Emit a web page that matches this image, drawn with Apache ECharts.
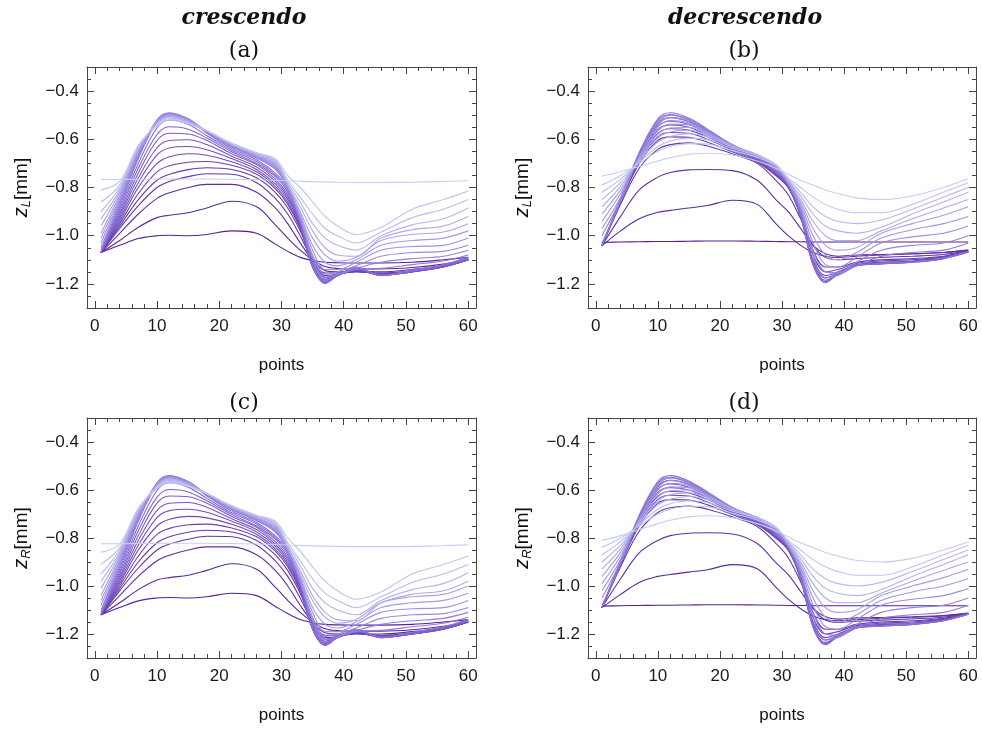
<!DOCTYPE html>
<html><head><meta charset="utf-8">
<script src="https://cdn.jsdelivr.net/npm/echarts@6/dist/echarts.min.js"></script>
<style>html,body{margin:0;padding:0;background:#fff}#c{width:982px;height:729px}</style>
</head><body><div id="c"></div>
<script>
// sample positions ("points") at which each curve was read
const X = [1,4,7,10,12,15,18,22,26,29,31,33,35,37,39,42,46,51,56,60];
const xTickLabels = [0,10,20,30,40,50,60];
const xMinorTicks = [2,4,6,8,12,14,16,18,22,24,26,28,32,34,36,38,42,44,46,48,52,54,56,58];
const yTickLabels = [-1.2,-1.0,-0.8,-0.6,-0.4];
const yMinorTicks = [-1.25,-1.15,-1.1,-1.05,-0.95,-0.9,-0.85,-0.75,-0.7,-0.65,-0.55,-0.5,-0.45,-0.35];

// (a) z_L crescendo : dark -> light
const crescL_dark = [
 [-1.07,-1.04,-1.012,-1.0,-0.998,-1.0,-0.995,-0.98,-0.99,-1.035,-1.065,-1.09,-1.103,-1.11,-1.112,-1.113,-1.113,-1.11,-1.10,-1.09],
 [-1.07,-1.02,-0.965,-0.925,-0.915,-0.905,-0.885,-0.857,-0.88,-0.955,-1.01,-1.06,-1.10,-1.128,-1.136,-1.138,-1.138,-1.132,-1.118,-1.10],
 [-1.07,-0.99,-0.91,-0.845,-0.822,-0.80,-0.787,-0.787,-0.82,-0.885,-0.95,-1.03,-1.10,-1.145,-1.15,-1.148,-1.15,-1.14,-1.125,-1.10],
 [-1.07,-0.97,-0.875,-0.80,-0.775,-0.755,-0.743,-0.745,-0.78,-0.845,-0.91,-1.0,-1.10,-1.155,-1.155,-1.15,-1.155,-1.145,-1.125,-1.10]
];
const crescL_mid = [
 [-1.07,-0.96,-0.85,-0.77,-0.745,-0.726,-0.718,-0.725,-0.76,-0.82,-0.885,-0.98,-1.10,-1.165,-1.16,-1.148,-1.158,-1.148,-1.128,-1.10],
 [-1.07,-0.95,-0.825,-0.735,-0.71,-0.695,-0.692,-0.708,-0.745,-0.805,-0.87,-0.97,-1.11,-1.172,-1.162,-1.146,-1.16,-1.148,-1.128,-1.10],
 [-1.07,-0.94,-0.80,-0.70,-0.672,-0.66,-0.666,-0.693,-0.735,-0.795,-0.86,-0.965,-1.12,-1.18,-1.163,-1.145,-1.162,-1.15,-1.13,-1.10],
 [-1.07,-0.93,-0.78,-0.665,-0.636,-0.63,-0.643,-0.68,-0.725,-0.785,-0.85,-0.96,-1.125,-1.185,-1.165,-1.143,-1.163,-1.15,-1.13,-1.10],
 [-1.07,-0.92,-0.76,-0.635,-0.605,-0.602,-0.622,-0.67,-0.715,-0.775,-0.84,-0.955,-1.13,-1.19,-1.165,-1.14,-1.164,-1.15,-1.13,-1.10],
 [-1.07,-0.91,-0.74,-0.605,-0.575,-0.578,-0.605,-0.66,-0.705,-0.765,-0.83,-0.95,-1.13,-1.195,-1.165,-1.138,-1.165,-1.15,-1.128,-1.098],
 [-1.07,-0.90,-0.72,-0.58,-0.548,-0.558,-0.595,-0.652,-0.70,-0.755,-0.82,-0.945,-1.13,-1.195,-1.165,-1.135,-1.165,-1.148,-1.125,-1.095],
 [-1.07,-0.89,-0.70,-0.552,-0.52,-0.538,-0.585,-0.645,-0.692,-0.748,-0.81,-0.94,-1.125,-1.197,-1.165,-1.132,-1.165,-1.145,-1.122,-1.092],
 [-1.065,-0.88,-0.68,-0.528,-0.495,-0.52,-0.575,-0.638,-0.685,-0.74,-0.80,-0.93,-1.12,-1.198,-1.165,-1.13,-1.163,-1.143,-1.12,-1.09]
];
const crescL_light = [
 [-1.06,-0.87,-0.67,-0.52,-0.49,-0.515,-0.57,-0.632,-0.678,-0.725,-0.80,-0.935,-1.10,-1.185,-1.165,-1.14,-1.135,-1.12,-1.105,-1.08],
 [-1.05,-0.86,-0.665,-0.52,-0.492,-0.515,-0.57,-0.63,-0.675,-0.72,-0.80,-0.93,-1.09,-1.175,-1.16,-1.135,-1.11,-1.095,-1.085,-1.06],
 [-1.03,-0.85,-0.66,-0.522,-0.495,-0.517,-0.568,-0.628,-0.672,-0.715,-0.80,-0.93,-1.08,-1.16,-1.15,-1.125,-1.085,-1.07,-1.065,-1.04],
 [-1.01,-0.84,-0.655,-0.525,-0.498,-0.52,-0.567,-0.626,-0.67,-0.71,-0.80,-0.92,-1.06,-1.14,-1.14,-1.11,-1.06,-1.045,-1.04,-1.01],
 [-0.99,-0.83,-0.65,-0.528,-0.50,-0.522,-0.566,-0.624,-0.668,-0.705,-0.79,-0.91,-1.04,-1.11,-1.125,-1.10,-1.04,-1.02,-1.01,-0.98],
 [-0.96,-0.82,-0.645,-0.53,-0.503,-0.525,-0.565,-0.622,-0.665,-0.70,-0.79,-0.90,-1.01,-1.08,-1.105,-1.09,-1.02,-0.995,-0.985,-0.95],
 [-0.93,-0.81,-0.64,-0.532,-0.506,-0.527,-0.565,-0.62,-0.662,-0.695,-0.79,-0.88,-0.98,-1.05,-1.08,-1.085,-1.01,-0.975,-0.96,-0.92],
 [-0.90,-0.80,-0.635,-0.535,-0.51,-0.53,-0.565,-0.618,-0.66,-0.69,-0.78,-0.86,-0.95,-1.01,-1.04,-1.06,-1.0,-0.955,-0.93,-0.885],
 [-0.86,-0.79,-0.63,-0.54,-0.515,-0.532,-0.565,-0.617,-0.658,-0.686,-0.77,-0.84,-0.91,-0.97,-1.0,-1.03,-0.985,-0.925,-0.89,-0.85],
 [-0.81,-0.775,-0.625,-0.545,-0.52,-0.535,-0.566,-0.615,-0.655,-0.68,-0.75,-0.80,-0.86,-0.92,-0.96,-0.995,-0.965,-0.89,-0.85,-0.815]
];
const crescL_flat = [-0.767,-0.767,-0.766,-0.765,-0.765,-0.765,-0.765,-0.766,-0.768,-0.77,-0.772,-0.774,-0.776,-0.777,-0.778,-0.779,-0.779,-0.778,-0.775,-0.772];

// (b) z_L decrescendo : dark -> light
const decrescL_dark = [
 [-1.028,-1.026,-1.025,-1.024,-1.024,-1.023,-1.022,-1.022,-1.023,-1.024,-1.025,-1.025,-1.026,-1.026,-1.026,-1.026,-1.026,-1.026,-1.026,-1.026],
 [-1.042,-0.98,-0.93,-0.903,-0.895,-0.885,-0.875,-0.853,-0.87,-0.95,-1.0,-1.04,-1.07,-1.085,-1.09,-1.085,-1.08,-1.075,-1.07,-1.06],
 [-1.042,-0.92,-0.81,-0.757,-0.738,-0.727,-0.725,-0.73,-0.77,-0.85,-0.90,-0.97,-1.04,-1.075,-1.085,-1.08,-1.078,-1.075,-1.07,-1.06],
 [-1.042,-0.87,-0.72,-0.642,-0.622,-0.615,-0.628,-0.66,-0.70,-0.77,-0.83,-0.93,-1.04,-1.09,-1.10,-1.095,-1.09,-1.085,-1.078,-1.062]
];
const decrescL_mid = [
 [-1.042,-0.86,-0.70,-0.605,-0.59,-0.592,-0.612,-0.652,-0.695,-0.75,-0.80,-0.91,-1.06,-1.13,-1.13,-1.11,-1.10,-1.095,-1.085,-1.065],
 [-1.042,-0.86,-0.69,-0.59,-0.572,-0.575,-0.60,-0.645,-0.69,-0.748,-0.80,-0.915,-1.08,-1.15,-1.14,-1.115,-1.105,-1.10,-1.088,-1.065],
 [-1.042,-0.855,-0.68,-0.575,-0.556,-0.562,-0.59,-0.64,-0.686,-0.745,-0.795,-0.92,-1.10,-1.165,-1.15,-1.12,-1.11,-1.105,-1.09,-1.066],
 [-1.042,-0.855,-0.675,-0.56,-0.54,-0.55,-0.582,-0.636,-0.682,-0.742,-0.795,-0.92,-1.11,-1.175,-1.155,-1.122,-1.113,-1.108,-1.092,-1.067],
 [-1.042,-0.85,-0.67,-0.547,-0.525,-0.538,-0.575,-0.632,-0.678,-0.738,-0.79,-0.92,-1.115,-1.185,-1.16,-1.125,-1.115,-1.11,-1.094,-1.068],
 [-1.042,-0.85,-0.665,-0.535,-0.51,-0.527,-0.568,-0.628,-0.675,-0.735,-0.79,-0.915,-1.12,-1.19,-1.16,-1.125,-1.117,-1.11,-1.095,-1.068],
 [-1.042,-0.85,-0.66,-0.522,-0.497,-0.518,-0.562,-0.625,-0.672,-0.73,-0.785,-0.91,-1.12,-1.193,-1.16,-1.124,-1.117,-1.11,-1.095,-1.068],
 [-1.042,-0.845,-0.655,-0.515,-0.49,-0.512,-0.558,-0.622,-0.67,-0.728,-0.785,-0.905,-1.12,-1.195,-1.16,-1.122,-1.116,-1.108,-1.094,-1.066]
];
const decrescL_light = [
 [-1.03,-0.86,-0.67,-0.53,-0.50,-0.52,-0.565,-0.625,-0.67,-0.72,-0.785,-0.895,-1.08,-1.175,-1.165,-1.125,-1.085,-1.07,-1.06,-1.03],
 [-1.0,-0.85,-0.67,-0.54,-0.51,-0.525,-0.567,-0.625,-0.668,-0.715,-0.785,-0.89,-1.06,-1.15,-1.155,-1.11,-1.06,-1.04,-1.03,-1.0],
 [-0.97,-0.84,-0.67,-0.55,-0.522,-0.532,-0.57,-0.625,-0.667,-0.712,-0.78,-0.88,-1.03,-1.12,-1.13,-1.09,-1.03,-1.005,-0.99,-0.96],
 [-0.94,-0.825,-0.675,-0.565,-0.537,-0.54,-0.573,-0.625,-0.665,-0.71,-0.78,-0.87,-1.0,-1.08,-1.10,-1.07,-1.01,-0.975,-0.95,-0.92],
 [-0.91,-0.81,-0.68,-0.58,-0.553,-0.55,-0.577,-0.626,-0.664,-0.708,-0.775,-0.86,-0.97,-1.04,-1.06,-1.05,-0.99,-0.95,-0.915,-0.88],
 [-0.88,-0.795,-0.685,-0.595,-0.57,-0.562,-0.582,-0.628,-0.664,-0.706,-0.77,-0.85,-0.94,-1.0,-1.02,-1.02,-0.98,-0.93,-0.885,-0.85],
 [-0.85,-0.78,-0.69,-0.612,-0.588,-0.577,-0.59,-0.632,-0.665,-0.705,-0.77,-0.835,-0.91,-0.96,-0.98,-0.99,-0.965,-0.91,-0.86,-0.82],
 [-0.82,-0.765,-0.695,-0.63,-0.607,-0.595,-0.602,-0.638,-0.668,-0.705,-0.765,-0.82,-0.88,-0.92,-0.94,-0.95,-0.935,-0.89,-0.84,-0.80],
 [-0.79,-0.75,-0.70,-0.65,-0.63,-0.618,-0.62,-0.647,-0.675,-0.708,-0.76,-0.80,-0.84,-0.87,-0.89,-0.905,-0.905,-0.87,-0.82,-0.78],
 [-0.753,-0.735,-0.713,-0.69,-0.676,-0.662,-0.658,-0.665,-0.69,-0.72,-0.745,-0.77,-0.79,-0.81,-0.825,-0.843,-0.85,-0.835,-0.80,-0.764]
];

// (c) z_R crescendo : dark -> light
const crescR_dark = [
 [-1.12,-1.09,-1.062,-1.05,-1.048,-1.05,-1.045,-1.03,-1.04,-1.085,-1.115,-1.14,-1.153,-1.16,-1.162,-1.163,-1.163,-1.16,-1.15,-1.14],
 [-1.12,-1.07,-1.015,-0.975,-0.965,-0.955,-0.935,-0.907,-0.93,-1.005,-1.06,-1.11,-1.15,-1.178,-1.186,-1.188,-1.188,-1.182,-1.168,-1.15],
 [-1.12,-1.04,-0.96,-0.895,-0.872,-0.85,-0.837,-0.837,-0.87,-0.935,-1.0,-1.08,-1.15,-1.195,-1.2,-1.198,-1.2,-1.19,-1.175,-1.15],
 [-1.12,-1.02,-0.925,-0.85,-0.825,-0.805,-0.793,-0.795,-0.83,-0.895,-0.96,-1.05,-1.15,-1.205,-1.205,-1.2,-1.205,-1.195,-1.175,-1.15]
];
const crescR_mid = [
 [-1.12,-1.01,-0.9,-0.82,-0.795,-0.776,-0.768,-0.775,-0.81,-0.87,-0.935,-1.03,-1.15,-1.215,-1.21,-1.198,-1.208,-1.198,-1.178,-1.15],
 [-1.12,-1.0,-0.875,-0.785,-0.76,-0.745,-0.742,-0.758,-0.795,-0.855,-0.92,-1.02,-1.16,-1.222,-1.212,-1.196,-1.21,-1.198,-1.178,-1.15],
 [-1.12,-0.99,-0.85,-0.75,-0.722,-0.71,-0.716,-0.743,-0.785,-0.845,-0.91,-1.015,-1.17,-1.23,-1.213,-1.195,-1.212,-1.2,-1.18,-1.15],
 [-1.12,-0.98,-0.83,-0.715,-0.686,-0.68,-0.693,-0.73,-0.775,-0.835,-0.9,-1.01,-1.175,-1.235,-1.215,-1.193,-1.213,-1.2,-1.18,-1.15],
 [-1.12,-0.97,-0.81,-0.685,-0.655,-0.652,-0.672,-0.72,-0.765,-0.825,-0.89,-1.005,-1.18,-1.24,-1.215,-1.19,-1.214,-1.2,-1.18,-1.15],
 [-1.12,-0.96,-0.79,-0.655,-0.625,-0.628,-0.655,-0.71,-0.755,-0.815,-0.88,-1.0,-1.18,-1.245,-1.215,-1.188,-1.215,-1.2,-1.178,-1.148],
 [-1.12,-0.95,-0.77,-0.63,-0.598,-0.608,-0.645,-0.702,-0.75,-0.805,-0.87,-0.995,-1.18,-1.245,-1.215,-1.185,-1.215,-1.198,-1.175,-1.145],
 [-1.12,-0.94,-0.75,-0.602,-0.57,-0.588,-0.635,-0.695,-0.742,-0.798,-0.86,-0.99,-1.175,-1.247,-1.215,-1.182,-1.215,-1.195,-1.172,-1.142],
 [-1.115,-0.93,-0.73,-0.578,-0.545,-0.57,-0.625,-0.688,-0.735,-0.79,-0.85,-0.98,-1.17,-1.248,-1.215,-1.18,-1.213,-1.193,-1.17,-1.14]
];
const crescR_light = [
 [-1.11,-0.92,-0.72,-0.57,-0.54,-0.565,-0.62,-0.682,-0.728,-0.775,-0.85,-0.985,-1.15,-1.235,-1.215,-1.19,-1.185,-1.17,-1.155,-1.13],
 [-1.1,-0.91,-0.715,-0.57,-0.542,-0.565,-0.62,-0.68,-0.725,-0.77,-0.85,-0.98,-1.14,-1.225,-1.21,-1.185,-1.16,-1.145,-1.135,-1.11],
 [-1.08,-0.9,-0.71,-0.572,-0.545,-0.567,-0.618,-0.678,-0.722,-0.765,-0.85,-0.98,-1.13,-1.21,-1.2,-1.175,-1.135,-1.12,-1.115,-1.09],
 [-1.06,-0.89,-0.705,-0.575,-0.548,-0.57,-0.617,-0.676,-0.72,-0.76,-0.85,-0.97,-1.11,-1.19,-1.19,-1.16,-1.11,-1.095,-1.09,-1.06],
 [-1.04,-0.88,-0.7,-0.578,-0.55,-0.572,-0.616,-0.674,-0.718,-0.755,-0.84,-0.96,-1.09,-1.16,-1.175,-1.15,-1.09,-1.07,-1.06,-1.03],
 [-1.01,-0.87,-0.695,-0.58,-0.553,-0.575,-0.615,-0.672,-0.715,-0.75,-0.84,-0.95,-1.06,-1.13,-1.155,-1.14,-1.07,-1.045,-1.035,-1.0],
 [-0.98,-0.86,-0.69,-0.582,-0.556,-0.577,-0.615,-0.67,-0.712,-0.745,-0.84,-0.935,-1.04,-1.11,-1.14,-1.145,-1.07,-1.035,-1.02,-0.98],
 [-0.95,-0.85,-0.685,-0.585,-0.56,-0.58,-0.615,-0.668,-0.71,-0.74,-0.83,-0.915,-1.01,-1.07,-1.1,-1.12,-1.06,-1.015,-0.99,-0.945],
 [-0.91,-0.84,-0.68,-0.59,-0.565,-0.582,-0.615,-0.667,-0.708,-0.736,-0.82,-0.895,-0.97,-1.03,-1.06,-1.09,-1.045,-0.985,-0.95,-0.91],
 [-0.86,-0.825,-0.675,-0.595,-0.57,-0.585,-0.616,-0.665,-0.705,-0.73,-0.8,-0.855,-0.92,-0.98,-1.02,-1.055,-1.025,-0.95,-0.91,-0.875]
];
const crescR_flat = [-0.824,-0.824,-0.823,-0.822,-0.822,-0.822,-0.822,-0.823,-0.825,-0.827,-0.829,-0.831,-0.833,-0.834,-0.835,-0.836,-0.836,-0.835,-0.832,-0.828];

// (d) z_R decrescendo : dark -> light
const decrescR_dark = [
 [-1.084,-1.082,-1.081,-1.08,-1.08,-1.079,-1.078,-1.078,-1.079,-1.08,-1.081,-1.081,-1.082,-1.082,-1.082,-1.082,-1.082,-1.082,-1.082,-1.082],
 [-1.09,-1.035,-0.985,-0.96,-0.952,-0.942,-0.932,-0.911,-0.928,-1.005,-1.055,-1.095,-1.125,-1.14,-1.145,-1.14,-1.135,-1.13,-1.125,-1.115],
 [-1.09,-0.97,-0.862,-0.81,-0.79,-0.78,-0.778,-0.783,-0.823,-0.903,-0.953,-1.023,-1.093,-1.128,-1.138,-1.133,-1.131,-1.128,-1.123,-1.113],
 [-1.09,-0.92,-0.772,-0.694,-0.674,-0.667,-0.68,-0.712,-0.752,-0.822,-0.882,-0.982,-1.092,-1.142,-1.152,-1.147,-1.142,-1.137,-1.13,-1.114]
];
const decrescR_mid = [
 [-1.09,-0.91,-0.75,-0.655,-0.64,-0.642,-0.662,-0.702,-0.745,-0.8,-0.85,-0.96,-1.11,-1.18,-1.18,-1.16,-1.15,-1.145,-1.135,-1.115],
 [-1.09,-0.91,-0.74,-0.64,-0.622,-0.625,-0.65,-0.695,-0.74,-0.798,-0.85,-0.965,-1.13,-1.2,-1.19,-1.165,-1.155,-1.15,-1.138,-1.115],
 [-1.09,-0.905,-0.73,-0.625,-0.606,-0.612,-0.64,-0.69,-0.736,-0.795,-0.845,-0.97,-1.15,-1.215,-1.2,-1.17,-1.16,-1.155,-1.14,-1.116],
 [-1.09,-0.905,-0.725,-0.61,-0.59,-0.6,-0.632,-0.686,-0.732,-0.792,-0.845,-0.97,-1.16,-1.225,-1.205,-1.172,-1.163,-1.158,-1.142,-1.117],
 [-1.09,-0.9,-0.72,-0.597,-0.575,-0.588,-0.625,-0.682,-0.728,-0.788,-0.84,-0.97,-1.165,-1.235,-1.21,-1.175,-1.165,-1.16,-1.144,-1.118],
 [-1.09,-0.9,-0.715,-0.585,-0.56,-0.577,-0.618,-0.678,-0.725,-0.785,-0.84,-0.965,-1.17,-1.24,-1.21,-1.175,-1.167,-1.16,-1.145,-1.118],
 [-1.09,-0.9,-0.71,-0.572,-0.547,-0.568,-0.612,-0.675,-0.722,-0.78,-0.835,-0.96,-1.17,-1.243,-1.21,-1.174,-1.167,-1.16,-1.145,-1.118],
 [-1.09,-0.895,-0.705,-0.565,-0.54,-0.562,-0.608,-0.672,-0.72,-0.778,-0.835,-0.955,-1.17,-1.245,-1.21,-1.172,-1.166,-1.158,-1.144,-1.116]
];
const decrescR_light = [
 [-1.08,-0.91,-0.72,-0.58,-0.55,-0.57,-0.615,-0.675,-0.72,-0.77,-0.835,-0.945,-1.13,-1.225,-1.215,-1.175,-1.135,-1.12,-1.11,-1.08],
 [-1.05,-0.9,-0.72,-0.59,-0.56,-0.575,-0.617,-0.675,-0.718,-0.765,-0.835,-0.94,-1.11,-1.2,-1.205,-1.16,-1.11,-1.09,-1.08,-1.05],
 [-1.02,-0.89,-0.72,-0.6,-0.572,-0.582,-0.62,-0.675,-0.717,-0.762,-0.83,-0.93,-1.08,-1.17,-1.18,-1.14,-1.08,-1.055,-1.04,-1.01],
 [-0.99,-0.875,-0.725,-0.615,-0.587,-0.59,-0.623,-0.675,-0.715,-0.76,-0.83,-0.92,-1.05,-1.13,-1.15,-1.12,-1.06,-1.025,-1.0,-0.97],
 [-0.96,-0.86,-0.73,-0.63,-0.603,-0.6,-0.627,-0.676,-0.714,-0.758,-0.825,-0.91,-1.02,-1.09,-1.11,-1.1,-1.04,-1.0,-0.965,-0.93],
 [-0.93,-0.845,-0.735,-0.645,-0.62,-0.612,-0.632,-0.678,-0.714,-0.756,-0.82,-0.9,-0.99,-1.05,-1.07,-1.07,-1.03,-0.98,-0.935,-0.9],
 [-0.9,-0.83,-0.74,-0.662,-0.638,-0.627,-0.64,-0.682,-0.715,-0.755,-0.82,-0.885,-0.96,-1.01,-1.03,-1.04,-1.015,-0.96,-0.91,-0.87],
 [-0.87,-0.815,-0.745,-0.68,-0.657,-0.645,-0.652,-0.688,-0.718,-0.755,-0.815,-0.87,-0.93,-0.97,-0.99,-1.0,-0.985,-0.94,-0.89,-0.85],
 [-0.84,-0.8,-0.75,-0.7,-0.68,-0.668,-0.67,-0.697,-0.725,-0.758,-0.81,-0.85,-0.89,-0.92,-0.94,-0.955,-0.955,-0.92,-0.87,-0.83],
 [-0.81,-0.79,-0.765,-0.74,-0.726,-0.712,-0.707,-0.715,-0.74,-0.77,-0.795,-0.82,-0.84,-0.86,-0.875,-0.893,-0.9,-0.885,-0.85,-0.817]
];

const FONT = 'Liberation Sans';
const AX = '#444';
const panels = [
  {left:87, top:67, width:389, height:241, sub:'L', curves:[...crescL_dark, ...crescL_mid, ...crescL_light, crescL_flat]},
  {left:588, top:67, width:388, height:241, sub:'L', curves:[...decrescL_dark, ...decrescL_mid, ...decrescL_light]},
  {left:87, top:418, width:389, height:240, sub:'R', curves:[...crescR_dark, ...crescR_mid, ...crescR_light, crescR_flat]},
  {left:588, top:418, width:388, height:240, sub:'R', curves:[...decrescR_dark, ...decrescR_mid, ...decrescR_light]}
];

function lerp(a,b,t){return Math.round(a+(b-a)*t);}
function shade(t){
  const c0=[86,34,148], c1=[134,108,216], c2=[196,206,243];
  let a,b,u; if(t<0.5){a=c0;b=c1;u=t/0.5;} else {a=c1;b=c2;u=(t-0.5)/0.5;}
  return 'rgb('+lerp(a[0],b[0],u)+','+lerp(a[1],b[1],u)+','+lerp(a[2],b[2],u)+')';
}
const fmt = v => (v < -1e-9 ? '\u2212' : '') + Math.abs(v).toFixed(1);

const grid=[], xAxis=[], yAxis=[], series=[];
panels.forEach((p,pi)=>{
  const gMain = grid.length;
  grid.push({left:p.left, top:p.top, width:p.width, height:p.height});
  const gMin = grid.length;
  grid.push({left:p.left, top:p.top, width:p.width, height:p.height});
  const xb = xAxis.length;
  const xBase = {type:'value', min:-1.25, max:61.25, splitLine:{show:false}};
  xAxis.push(Object.assign({}, xBase, {gridIndex:gMain, position:'bottom',
    axisLine:{show:true, onZero:false, lineStyle:{color:AX, width:1}},
    axisTick:{show:true, inside:true, length:7, customValues:xTickLabels, lineStyle:{color:AX}},
    axisLabel:{show:true, customValues:xTickLabels, fontSize:17, color:'#1a1a1a', fontFamily:FONT, margin:10},
    name:'points', nameLocation:'middle', nameGap:49, nameTextStyle:{fontSize:17, color:'#111', fontFamily:FONT}}));
  xAxis.push(Object.assign({}, xBase, {gridIndex:gMain, position:'top',
    axisLine:{show:true, onZero:false, lineStyle:{color:AX, width:1}},
    axisTick:{show:true, inside:true, length:7, customValues:xTickLabels, lineStyle:{color:AX}},
    axisLabel:{show:false}}));
  xAxis.push(Object.assign({}, xBase, {gridIndex:gMin, position:'bottom',
    axisLine:{show:false, onZero:false},
    axisTick:{show:true, inside:true, length:4, customValues:xMinorTicks, lineStyle:{color:AX}},
    axisLabel:{show:false}}));
  xAxis.push(Object.assign({}, xBase, {gridIndex:gMin, position:'top',
    axisLine:{show:false, onZero:false},
    axisTick:{show:true, inside:true, length:4, customValues:xMinorTicks, lineStyle:{color:AX}},
    axisLabel:{show:false}}));
  const yb = yAxis.length;
  const yBase = {type:'value', min:-1.3, max:-0.3, splitLine:{show:false}};
  yAxis.push(Object.assign({}, yBase, {gridIndex:gMain, position:'left',
    axisLine:{show:true, onZero:false, lineStyle:{color:AX, width:1}},
    axisTick:{show:true, inside:true, length:7, customValues:yTickLabels, lineStyle:{color:AX}},
    axisLabel:{show:true, customValues:yTickLabels, formatter:fmt, fontSize:17, color:'#1a1a1a', fontFamily:FONT, margin:8},
    name:'{z|z}{s|'+p.sub+'}{m|[mm]}', nameLocation:'middle', nameRotate:90, nameGap:54,
    nameTextStyle:{color:'#111', fontFamily:FONT, fontSize:19, rich:{
      z:{fontSize:20, fontStyle:'italic', fontFamily:FONT, color:'#111'},
      s:{fontSize:13, fontStyle:'italic', fontFamily:FONT, color:'#111', padding:[10,0,0,0]},
      m:{fontSize:19, fontFamily:FONT, color:'#111'}}}}));
  yAxis.push(Object.assign({}, yBase, {gridIndex:gMain, position:'right',
    axisLine:{show:true, onZero:false, lineStyle:{color:AX, width:1}},
    axisTick:{show:true, inside:true, length:7, customValues:yTickLabels, lineStyle:{color:AX}},
    axisLabel:{show:false}}));
  yAxis.push(Object.assign({}, yBase, {gridIndex:gMin, position:'left',
    axisLine:{show:false, onZero:false},
    axisTick:{show:true, inside:true, length:4, customValues:yMinorTicks, lineStyle:{color:AX}},
    axisLabel:{show:false}}));
  yAxis.push(Object.assign({}, yBase, {gridIndex:gMin, position:'right',
    axisLine:{show:false, onZero:false},
    axisTick:{show:true, inside:true, length:4, customValues:yMinorTicks, lineStyle:{color:AX}},
    axisLabel:{show:false}}));
  const n = p.curves.length;
  p.curves.forEach((arr,i)=>{
    series.push({type:'line', xAxisIndex:xb, yAxisIndex:yb, symbol:'none', smooth:0.35, silent:true,
      lineStyle:{width:1.1, color:shade(i/(n-1))}, data:X.map((x,k)=>[x,arr[k]]), z:2});
  });
});

function label(text,x,y,font){
  return {type:'text', x:x, y:y, silent:true, style:{text:text, font:font, fill:'#111',
    align:'center', verticalAlign:'middle', textAlign:'center', textVerticalAlign:'middle'}};
}
const TF = 'italic bold 22px "DejaVu Serif"';
const PF = '22px "DejaVu Serif"';
const chart = echarts.init(document.getElementById('c'), null, {renderer:'canvas'});
chart.setOption({
  animation:false, backgroundColor:'#fff',
  grid, xAxis, yAxis, series,
  graphic:[
    label('crescendo',244,18,TF), label('decrescendo',745,18,TF),
    label('(a)',244,51,PF), label('(b)',744,51,PF),
    label('(c)',244,403,PF), label('(d)',744,403,PF)
  ]
});
</script></body></html>
